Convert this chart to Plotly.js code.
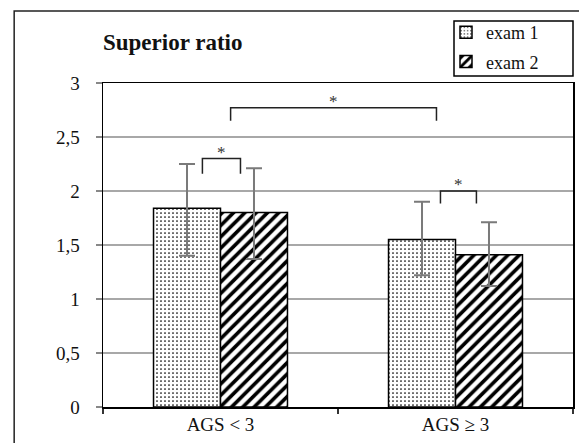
<!DOCTYPE html>
<html><head><meta charset="utf-8">
<script src="https://cdn.plot.ly/plotly-3.0.1.min.js"></script>
<style>html,body{margin:0;padding:0;background:#fff}#chart{width:579px;height:443px}</style>
</head><body><div id="chart"></div>
<script>
// ---- data ----
const categories = ['AGS < 3', 'AGS \u2265 3'];
const exam1 = [1.84, 1.55];
const exam1ErrPlus = [0.41, 0.35];
const exam1ErrMinus = [0.44, 0.33];
const exam2 = [1.80, 1.41];
const exam2ErrPlus = [0.41, 0.30];
const exam2ErrMinus = [0.43, 0.29];
const yTicks = [0, 0.5, 1, 1.5, 2, 2.5, 3];
// significance brackets: [xStart, xEnd, yTop, yLeg]
const bracketSmall1 = [-0.077, 0.085, 2.30, 2.16];
const bracketSmall2 = [0.936, 1.089, 2.00, 1.885];
const bracketBig = [0.043, 0.919, 2.77, 2.65];
const starLabels = ['*', '*', '*'];

const font = '"Liberation Serif", "DejaVu Serif", serif';
const txtColor = '#111';

const traces = [
  {type:'bar', name:'exam 1', x:categories, y:exam1, legendgroup:'g1',
   marker:{color:'#fff', line:{color:'#000', width:1.5},
     pattern:{shape:'.', fgcolor:'#000', bgcolor:'#fff', size:4, solidity:0.15}},
   error_y:{type:'data', symmetric:false, array:exam1ErrPlus, arrayminus:exam1ErrMinus,
     color:'#7a7a7a', thickness:2, width:8}},
  {type:'bar', name:'exam 2', x:categories, y:exam2, legendgroup:'g2',
   marker:{color:'#fff', line:{color:'#000', width:1.5},
     pattern:{shape:'/', fgcolor:'#000', bgcolor:'#fff', size:8, solidity:0.45}},
   error_y:{type:'data', symmetric:false, array:exam2ErrPlus, arrayminus:exam2ErrMinus,
     color:'#7a7a7a', thickness:2, width:8}}
];

function bracket(b){
  return {type:'path', xref:'x', yref:'y',
    path:`M ${b[0]} ${b[3]} L ${b[0]} ${b[2]} L ${b[1]} ${b[2]} L ${b[1]} ${b[3]}`,
    line:{color:'#222', width:1.5}};
}
const brackets = [bracketSmall1, bracketSmall2, bracketBig];

const shapes = brackets.map(bracket);
// darker 1.5 gridline as in reference
shapes.push({type:'line', xref:'paper', yref:'y', x0:0, x1:1, y0:yTicks[3], y1:yTicks[3],
  line:{color:'#333', width:2}, layer:'below'});
// outer frame
shapes.push({type:'rect', xref:'paper', yref:'paper', x0:-0.189, x1:1.2, y0:-0.5, y1:1.222,
  line:{color:'#222', width:1.5}, fillcolor:'rgba(0,0,0,0)'});
// legend box
shapes.push({type:'rect', xref:'paper', yref:'paper', x0:(454-103)/470, x1:1.0,
  y0:(407-76)/324, y1:(407-21)/324, line:{color:'#000', width:1.5}, fillcolor:'#fff'});

const annotations = brackets.map((b,i)=>({
  xref:'x', yref:'y', x:(b[0]+b[1])/2, y:b[2], yanchor:'bottom', yshift:-5,
  text:starLabels[i], showarrow:false, font:{family:font, size:17, color:'#333'}
}));

const layout = {
  width:579, height:443,
  margin:{l:103, r:6, t:83, b:36},
  paper_bgcolor:'#fff', plot_bgcolor:'#fff',
  separators:', ',
  font:{family:font, color:txtColor, size:18},
  title:{text:'<b>Superior ratio</b>', xref:'container', yref:'container',
    x:103/579, xanchor:'left', y:1-42/443, yanchor:'middle',
    font:{family:font, size:23, color:txtColor}},
  barmode:'group', bargap:0.43, bargroupgap:0,
  xaxis:{type:'category', showline:true, linecolor:'#000', linewidth:1.5, mirror:true,
    ticks:'outside', tickson:'boundaries', ticklen:5, tickcolor:'#333', tickwidth:1.5,
    showgrid:false, tickfont:{family:font, size:19, color:txtColor}, fixedrange:true},
  yaxis:{range:[0,3], tickvals:yTicks, showline:true, linecolor:'#000', linewidth:1.5, mirror:true,
    ticks:'outside', ticklen:6, tickcolor:'#888', tickwidth:2,
    gridcolor:'#a8a8a8', gridwidth:2, zeroline:false,
    ticklabelstandoff:12,
    tickfont:{family:font, size:19, color:txtColor}, fixedrange:true},
  showlegend:true,
  legend:{x:(446-103)/470, xanchor:'left', y:(407-14)/324, yanchor:'top',
    borderwidth:0, bgcolor:'rgba(0,0,0,0)', itemwidth:30, tracegroupgap:3,
    font:{family:font, size:18, color:txtColor}},
  shapes:shapes, annotations:annotations
};

Plotly.newPlot('chart', traces, layout, {displayModeBar:false, staticPlot:true});
</script></body></html>
